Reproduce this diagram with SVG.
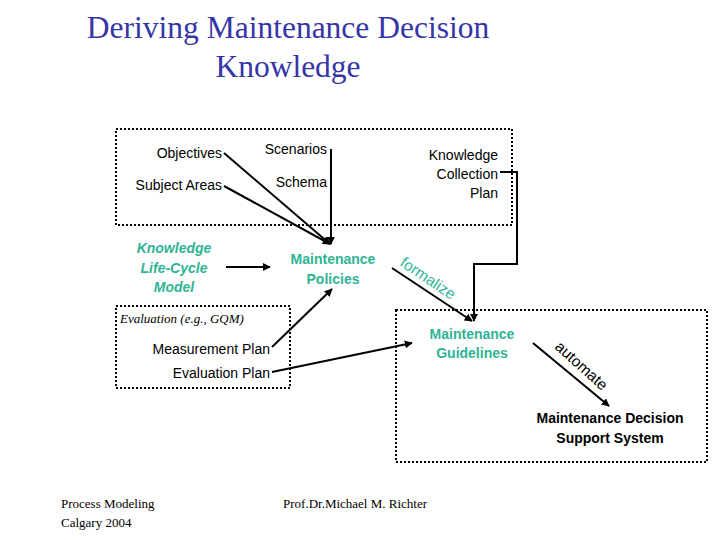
<svg xmlns="http://www.w3.org/2000/svg" width="720" height="540" viewBox="0 0 720 540">
<style>
.t{font-family:"Liberation Sans",Arial,sans-serif;font-size:14px;fill:#000}
.g{font-family:"Liberation Sans",Arial,sans-serif;font-size:14px;font-weight:bold;fill:#2fb494}
.gi{font-style:italic}
.s{font-family:"Liberation Serif","Times New Roman",serif;fill:#000}
.box{fill:none;stroke:#000;stroke-width:2;stroke-dasharray:2,2}
.c{fill:none;stroke:#000;stroke-width:2}
</style>
<defs>
<marker id="a" viewBox="0 0 10 10" refX="9" refY="5" markerWidth="4" markerHeight="4" orient="auto" markerUnits="strokeWidth">
<path d="M0,0L10,5L0,10z" fill="#000"/>
</marker>
</defs>
<rect width="720" height="540" fill="#fff"/>
<g id="title">
<text x="288" y="38" text-anchor="middle" class="s" style="font-size:31.5px;fill:#3535a8">Deriving Maintenance Decision</text>
<text x="288" y="77" text-anchor="middle" class="s" style="font-size:31.5px;fill:#3535a8">Knowledge</text>
</g>
<g id="boxes">
<rect class="box" x="116" y="129" width="396" height="96"/>
<rect class="box" x="116" y="306" width="174" height="82"/>
<rect class="box" x="396" y="310" width="311" height="152"/>
</g>
<g id="connectors">
<path class="c" d="M331,149V244" marker-end="url(#a)"/>
<path class="c" d="M224,153L330,244" marker-end="url(#a)"/>
<path class="c" d="M224,186L330,244" marker-end="url(#a)"/>
<path class="c" d="M226,267H270" marker-end="url(#a)"/>
<path class="c" d="M272,347L332,289" marker-end="url(#a)"/>
<path class="c" d="M500,172H517V264H474V321" marker-end="url(#a)"/>
<path class="c" d="M392,268L472,321" marker-end="url(#a)"/>
<path class="c" d="M272,372L412,343" marker-end="url(#a)"/>
<path class="c" d="M533,343L609,406" marker-end="url(#a)"/>
</g>
<g id="objectives"><text class="t" x="222" y="158" text-anchor="end">Objectives</text></g>
<g id="subject-areas"><text class="t" x="222" y="190" text-anchor="end">Subject Areas</text></g>
<g id="scenarios"><text class="t" x="327" y="154" text-anchor="end">Scenarios</text></g>
<g id="schema"><text class="t" x="327" y="187" text-anchor="end">Schema</text></g>
<g id="kcp">
<text class="t" x="498" y="160" text-anchor="end">Knowledge</text>
<text class="t" x="498" y="179" text-anchor="end">Collection</text>
<text class="t" x="498" y="198" text-anchor="end">Plan</text>
</g>
<g id="klcm">
<text class="g gi" x="174" y="253" text-anchor="middle">Knowledge</text>
<text class="g gi" x="174" y="273" text-anchor="middle">Life-Cycle</text>
<text class="g gi" x="174" y="292" text-anchor="middle">Model</text>
</g>
<g id="policies">
<text class="g" x="333" y="264" text-anchor="middle">Maintenance</text>
<text class="g" x="333" y="284" text-anchor="middle">Policies</text>
</g>
<g id="formalize"><text class="g" style="font-weight:normal;font-size:15.5px" transform="translate(399,265) rotate(34)">formalize</text></g>
<g id="evaluation">
<text class="s gi" x="120" y="323" style="font-size:13px">Evaluation (e.g., GQM)</text>
<text class="t" x="270" y="354" text-anchor="end">Measurement Plan</text>
<text class="t" x="270" y="378" text-anchor="end">Evaluation Plan</text>
</g>
<g id="guidelines">
<text class="g" x="472" y="339" text-anchor="middle">Maintenance</text>
<text class="g" x="472" y="358" text-anchor="middle">Guidelines</text>
</g>
<g id="automate"><text class="t" style="font-size:15.5px" transform="translate(554,348) rotate(42)">automate</text></g>
<g id="mdss">
<text class="t" style="font-weight:bold" x="610" y="423" text-anchor="middle">Maintenance Decision</text>
<text class="t" style="font-weight:bold" x="610" y="443" text-anchor="middle">Support System</text>
</g>
<g id="footer">
<text class="s" x="61" y="508" style="font-size:13px">Process Modeling</text>
<text class="s" x="61" y="527" style="font-size:13px">Calgary 2004</text>
<text class="s" x="283" y="508" style="font-size:13px">Prof.Dr.Michael M. Richter</text>
</g>
</svg>
